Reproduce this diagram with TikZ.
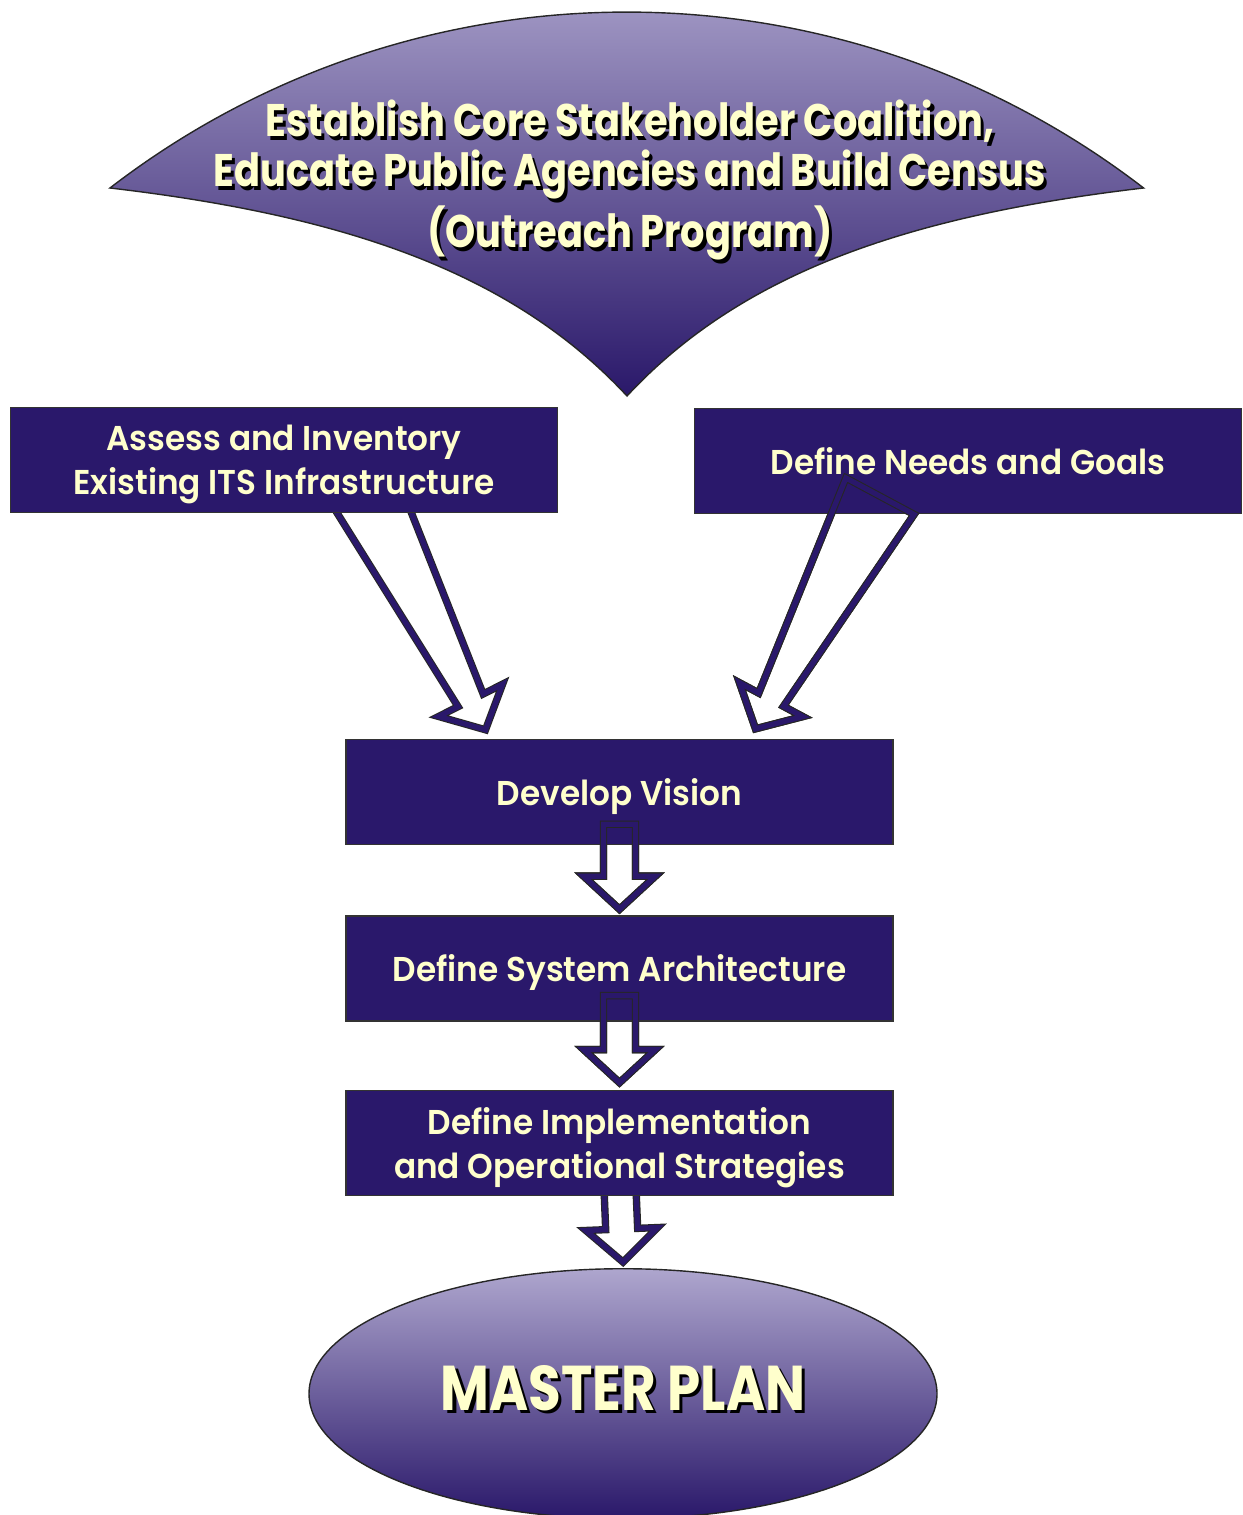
\documentclass[tikz,border=0pt]{standalone}
\usepackage{fontspec}
\setmainfont{Poppins}
\IfFontExistsTF{Poppins SemiBold}
  {\newfontfamily\boxfont{Poppins SemiBold}[FakeStretch=0.95]}
  {\newfontfamily\boxfont{Poppins}[FakeStretch=0.95]}
\newfontfamily\condensedfont{Poppins}[FakeStretch=0.84]
\usepackage{xcolor}
\usetikzlibrary{positioning,shapes.geometric,calc}

\definecolor{boxblue}{RGB}{42,24,107}
\definecolor{cream}{RGB}{255,255,204}
\definecolor{lavender}{RGB}{174,166,206}
\definecolor{deepviolet}{RGB}{42,24,106}

\pgfdeclarelayer{background}
\pgfsetlayers{background,main}

% cream letters over a small black drop shadow
\newcommand\dropshadow[1]{\leavevmode\rlap{\kern0.9pt\raisebox{-0.9pt}{\color{black}#1}}#1}

% hollow block arrow: start, tip, half width at start, half width at neck
\newcommand\headlen{9.4pt}
\newcommand\headhalf{10.2pt}
\newcommand\blockarrow[5][]{%
  \coordinate (neck) at ($(#3)!\headlen!(#2)$);
  \draw[hollow,#1] ($(#2)!#4!90:(#3)$) -- ($(neck)!#5!90:(#3)$)
    -- ($(neck)!\headhalf!90:(#3)$) -- (#3)
    -- ($(neck)!\headhalf!-90:(#3)$) -- ($(neck)!#5!-90:(#3)$)
    -- ($(#2)!#4!-90:(#3)$) -- cycle;
}

\begin{document}
\begin{tikzpicture}[
    x=0.1mm, y=-0.1mm,
    node distance=0.7cm,
    box/.style={rectangle, draw=black!80, line width=0.4pt, fill=boxblue,
      text=cream, minimum width=5.47cm, minimum height=1.05cm, align=center,
      text depth=0pt, font=\boxfont\fontsize{9.8}{12.5}\selectfont},
    gradient/.style={draw=black!85, line width=0.4pt, top color=lavender,
      bottom color=deepviolet},
    hollow/.style={draw=black!85, line width=0.3pt, double=boxblue,
      double distance=1.5pt, fill=white, line join=miter},
    bigtext/.style={text=cream, align=center, font=\condensedfont\bfseries}
]
    \useasboundingbox (0,0) rectangle (1242,1515);

    % outreach fan
    \begin{pgfonlayer}{background}
      \draw[gradient] (110,188) arc[start angle=232.4, end angle=307.6, radius=847]
        .. controls (914,215) and (744,270) .. (627,396)
        .. controls (510,270) and (340,215) .. (110,188) -- cycle;
    \end{pgfonlayer}
    \node[bigtext, font=\condensedfont\bfseries\fontsize{13}{14.2}\selectfont] (outreach) at (630,182)
      {\dropshadow{Establish Core Stakeholder Coalition,}\\
       \dropshadow{Educate Public Agencies and Build Census}\\
       \dropshadow{(Outreach Program)}};

    % steps
    \node[box] (assess) at (284,460) {Assess and Inventory\\Existing ITS Infrastructure};
    \node[box] (needs) at (968,461) {Define Needs and Goals};
    \node[box] (vision) at (619.5,792) {Develop Vision};
    \node[box, below=of vision] (arch) {Define System Architecture};
    \node[box, below=0.68cm of arch] (impl) {Define Implementation\\and Operational Strategies};
    \node[ellipse, gradient, text=cream, minimum width=6.28cm, minimum height=2.5cm,
      below=0.72cm of impl, xshift=0.35mm] (plan)
      {\raisebox{1.1mm}{\condensedfont\bfseries\fontsize{18}{20}\selectfont\dropshadow{MASTER PLAN}}};

    % arrow ends
    \coordinate (a1) at ($(assess.south)+(82,-20)$);
    \coordinate (b1) at ($(vision.north)+(-134,-9)$);
    \coordinate (a2) at ($(needs.south)+(-88,-18)$);
    \coordinate (b2) at ($(vision.north)+(136,-10)$);
    \coordinate (a3) at ($(vision.south)+(0,-21)$);
    \coordinate (b3) at ($(arch.north)+(0,-6)$);
    \coordinate (a4) at ($(arch.south)+(0,-26)$);
    \coordinate (b4) at ($(impl.north)+(0,-7)$);
    \coordinate (a5) at ($(impl.south)+(0,-20)$);
    \coordinate (b5) at ($(plan.north)+(0,-6)$);

    \begin{pgfonlayer}{background}
      \blockarrow{a1}{b1}{10pt}{4pt}
      \blockarrow{a2}{b2}{11pt}{4pt}
      \blockarrow{a3}{b3}{4.55pt}{4.55pt}
      \blockarrow{a4}{b4}{4.55pt}{4.55pt}
      \blockarrow{a5}{b5}{4.55pt}{4.55pt}
    \end{pgfonlayer}

    % arrow tails showing through the boxes
    \blockarrow[fill=none]{a2}{b2}{11pt}{4pt}
    \blockarrow[fill=none]{a3}{b3}{4.55pt}{4.55pt}
    \blockarrow[fill=none]{a4}{b4}{4.55pt}{4.55pt}
\end{tikzpicture}
\end{document}
